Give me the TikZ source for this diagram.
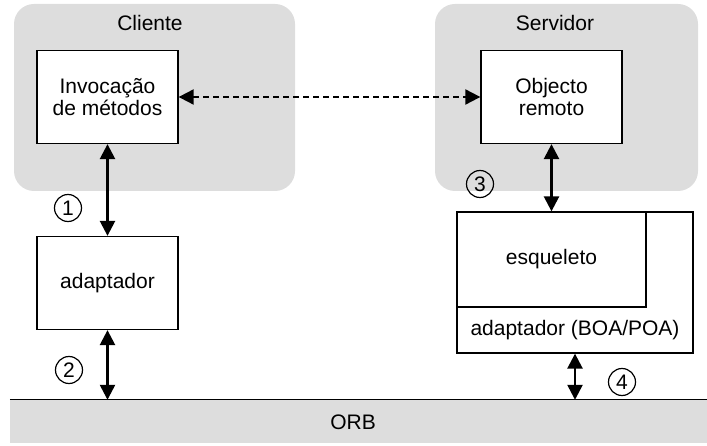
\documentclass[tikz,border=0pt]{standalone}
\usepackage{fontspec}
\setmainfont{Liberation Sans}
\usepackage{tikz}
\usetikzlibrary{arrows.meta,positioning,calc}
\definecolor{zonegray}{RGB}{221,221,221}

\begin{document}
\begin{tikzpicture}[
    x=1pt, y=-1pt,
    every node/.style={
        font=\fontsize{21}{22}\selectfont,
        inner sep=0pt
    },
    zone/.style={fill=zonegray, rounded corners=20pt,
        minimum width=281pt, minimum height=187pt},
    block/.style={draw, fill=white, line width=1.3pt, align=center,
        minimum width=141pt, minimum height=93pt},
    stepnum/.style={draw, circle, line width=1.2pt, minimum size=27pt},
    link/.style={line width=2.5pt,
        {Triangle[length=15pt,width=15pt]}-{Triangle[length=15pt,width=15pt]}},
    remote/.style={line width=2pt, dash pattern=on 6pt off 4pt,
        {Triangle[length=15pt,width=15pt]}-{Triangle[length=15pt,width=15pt]}}
]
\useasboundingbox (0,0) rectangle (707,446);

% zonas
\node[zone] (cliente) at (154.5,97.5) {};
\node[zone, minimum width=263pt] (servidor) at (566.5,97.5) {};
\node (clientelbl) at (150,23) {Cliente};
\node (servidorlbl) at (555,23) {Servidor};

% ORB
\node[fill=zonegray, minimum width=697pt, minimum height=43pt] (orb) at (358.5,421.5) {};
\node (orblbl) at (353,422) {ORB};
\draw[line width=1pt] (orb.north west) -- (orb.north east);

% blocos
\node[block] (invoc) at (107.5,97) {Invocação\\de métodos};
\node[block] (objecto) at (551.5,97) {Objecto\\remoto};
\node[block] (adapt) at (107.5,283) {adaptador};
\node[block, minimum width=236pt, minimum height=141pt] (poa) at (575,282.5) {};
\node[block, minimum width=189pt, minimum height=95pt] (esq) at (551.5,259.5) {esqueleto};
\node (poalbl) at (575,330) {adaptador (BOA/POA)};

% ligacoes
\draw[remote] (invoc.east) -- (objecto.west);
\draw[link] (invoc.south) -- (adapt.north);
\draw[link] (adapt.south) -- (adapt.south |- orb.north);
\draw[link] (objecto.south) -- (objecto.south |- poa.north);
\draw[link] (poa.south) -- (poa.south |- orb.north);

% passos
\node[stepnum] (n1) at (68,208) {1};
\node[stepnum] (n2) at (69,370) {2};
\node[stepnum] (n3) at (480,184) {3};
\node[stepnum] (n4) at (622,382) {4};

\end{tikzpicture}
\end{document}
